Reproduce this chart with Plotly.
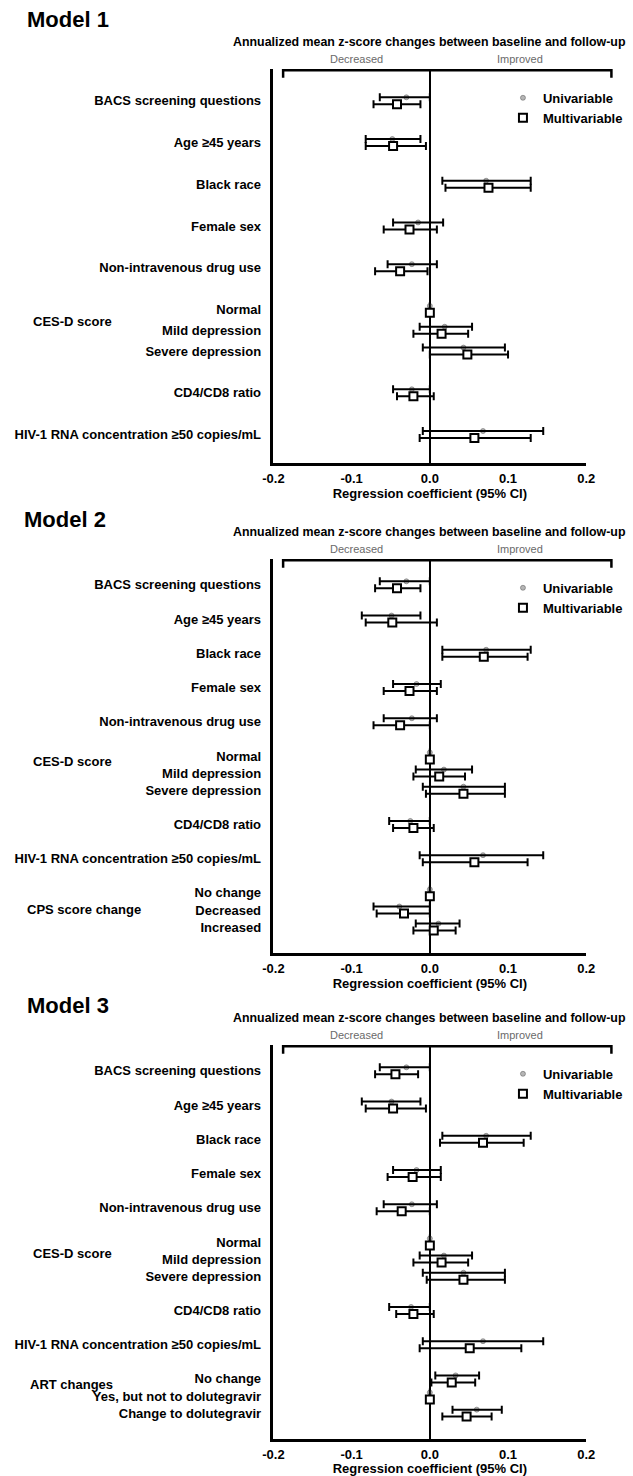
import plotly.graph_objects as go

W, H = 633, 1476

# ---------------- data ----------------
tick_vals = [-0.2, -0.1, 0.0, 0.1, 0.2]
tick_text = ["-0.2", "-0.1", "0.0", "0.1", "0.2"]

base_rows = ["BACS screening questions", "Age ≥45 years", "Black race", "Female sex",
             "Non-intravenous drug use", "Normal", "Mild depression", "Severe depression",
             "CD4/CD8 ratio", "HIV-1 RNA concentration ≥50 copies/mL"]
base_groups = [None, None, None, None, None, "CES-D score", "CES-D score", "CES-D score", None, None]

m1_rows = base_rows
m1_groups = base_groups
m1_uni_est = [-0.030, -0.048, 0.072, -0.015, -0.023, 0.0, 0.019, 0.043, -0.023, 0.068]
m1_uni_lo = [-0.064, -0.082, 0.016, -0.047, -0.054, None, -0.013, -0.009, -0.047, -0.009]
m1_uni_hi = [0.000, -0.012, 0.129, 0.017, 0.009, None, 0.054, 0.096, 0.000, 0.145]
m1_mul_est = [-0.042, -0.047, 0.075, -0.026, -0.038, 0.0, 0.015, 0.048, -0.021, 0.057]
m1_mul_lo = [-0.072, -0.082, 0.020, -0.059, -0.070, None, -0.021, 0.000, -0.042, -0.013]
m1_mul_hi = [-0.012, -0.005, 0.129, 0.009, -0.003, None, 0.049, 0.100, 0.005, 0.129]

m2_rows = base_rows + ["No change", "Decreased", "Increased"]
m2_groups = base_groups + ["CPS score change"] * 3
m2_uni_est = [-0.030, -0.049, 0.072, -0.017, -0.023, 0.0, 0.018, 0.043, -0.025, 0.068, 0.0, -0.039, 0.011]
m2_uni_lo = [-0.064, -0.087, 0.016, -0.047, -0.059, None, -0.018, -0.009, -0.052, -0.013, None, -0.072, -0.018]
m2_uni_hi = [0.000, -0.012, 0.129, 0.014, 0.009, None, 0.054, 0.096, 0.000, 0.145, None, 0.000, 0.038]
m2_mul_est = [-0.042, -0.048, 0.069, -0.026, -0.038, 0.0, 0.012, 0.043, -0.021, 0.057, 0.0, -0.033, 0.005]
m2_mul_lo = [-0.070, -0.082, 0.016, -0.059, -0.072, None, -0.021, -0.005, -0.047, -0.009, None, -0.068, -0.021]
m2_mul_hi = [-0.012, 0.009, 0.125, 0.009, 0.000, None, 0.045, 0.096, 0.005, 0.125, None, 0.000, 0.033]

m3_rows = base_rows + ["No change", "Yes, but not to dolutegravir", "Change to dolutegravir"]
m3_groups = base_groups + ["ART changes"] * 3
m3_uni_est = [-0.030, -0.049, 0.072, -0.017, -0.023, 0.0, 0.018, 0.043, -0.024, 0.068, 0.033, 0.0, 0.060]
m3_uni_lo = [-0.064, -0.087, 0.016, -0.047, -0.059, None, -0.013, -0.009, -0.052, -0.009, 0.007, None, 0.029]
m3_uni_hi = [0.000, -0.012, 0.129, 0.014, 0.009, None, 0.054, 0.096, 0.000, 0.145, 0.063, None, 0.092]
m3_mul_est = [-0.044, -0.047, 0.068, -0.022, -0.036, 0.0, 0.015, 0.043, -0.021, 0.051, 0.028, 0.0, 0.047]
m3_mul_lo = [-0.070, -0.082, 0.013, -0.054, -0.068, None, -0.021, -0.004, -0.043, -0.013, 0.002, None, 0.016]
m3_mul_hi = [-0.015, -0.005, 0.120, 0.014, 0.000, None, 0.049, 0.096, 0.005, 0.117, 0.058, None, 0.079]

panel_titles = ["Model 1", "Model 2", "Model 3"]
header_text = "Annualized mean z-score changes between baseline and follow-up"
dir_left = "Decreased"
dir_right = "Improved"
x_title = "Regression coefficient (95% CI)"
series_names = ["Univariable", "Multivariable"]

models = [
    (m1_rows, m1_groups, m1_uni_est, m1_uni_lo, m1_uni_hi, m1_mul_est, m1_mul_lo, m1_mul_hi),
    (m2_rows, m2_groups, m2_uni_est, m2_uni_lo, m2_uni_hi, m2_mul_est, m2_mul_lo, m2_mul_hi),
    (m3_rows, m3_groups, m3_uni_est, m3_uni_lo, m3_uni_hi, m3_mul_est, m3_mul_lo, m3_mul_hi),
]

# ---------------- layout geometry (pixels) ----------------
panel_top = [69, 560, 1047]
panel_bot = [464, 955, 1442]
first_row_px = [101, 586, 1073]
px_per_unit = [20.9, 17.15, 17.15]
title_px = [(16, 20), (12, 521), (16, 1008)]
group_shift = [{"CES-D score": -0.4},
               {"CES-D score": -0.7, "CPS score change": 0.0},
               {"CES-D score": -0.3, "ART changes": -0.7}]
group_x_px = {"CES-D score": 22, "CPS score change": 16, "ART changes": 19}
x_left_px, x_right_px = 271, 594

FONT = "Liberation Sans"
BOLD13 = dict(family=FONT, size=13, color="black", weight="bold")


def py(p):
    return 1 - p / H


def positions(groups):
    pos = [0.0]
    for i in range(1, len(groups)):
        same = groups[i] is not None and groups[i] == groups[i - 1]
        pos.append(pos[-1] + (1 if same else 2))
    return pos


def err(est, lo, hi):
    plus = [None if h is None else h - e for e, h in zip(est, hi)]
    minus = [None if l is None else e - l for e, l in zip(est, lo)]
    return plus, minus


fig = go.Figure()
annotations = []
shapes = []

for k, (rows, groups, ue, ul, uh, me, ml, mh) in enumerate(models):
    ax = "" if k == 0 else str(k + 1)
    xa, ya = "x" + ax, "y" + ax
    leg = "legend" + ax
    pos = positions(groups)
    ppu = px_per_unit[k]
    off = 3.5 / ppu
    y_uni = [p - off for p in pos]
    y_mul = [p + off for p in pos]

    up, um = err(ue, ul, uh)
    mp, mm = err(me, ml, mh)

    # univariable point (drawn under its CI line)
    fig.add_trace(go.Scatter(
        x=ue, y=y_uni, mode="markers", name=series_names[0],
        xaxis=xa, yaxis=ya, legend=leg,
        marker=dict(symbol="circle", size=5, color="#b5b5b5",
                    line=dict(color="#555555", width=0.5)),
    ))
    fig.add_trace(go.Scatter(
        x=ue, y=y_uni, mode="markers", showlegend=False, hoverinfo="skip",
        xaxis=xa, yaxis=ya,
        marker=dict(size=1, color="rgba(0,0,0,0)"),
        error_x=dict(type="data", symmetric=False, array=up, arrayminus=um,
                     color="black", thickness=2, width=4),
    ))
    fig.add_trace(go.Scatter(
        x=me, y=y_mul, mode="markers", name=series_names[1],
        xaxis=xa, yaxis=ya, legend=leg,
        marker=dict(symbol="square", size=8, color="white",
                    line=dict(color="black", width=2)),
        error_x=dict(type="data", symmetric=False, array=mp, arrayminus=mm,
                     color="black", thickness=2, width=4),
    ))

    top_u = -(first_row_px[k] - panel_top[k]) / ppu
    bot_u = (panel_bot[k] - first_row_px[k]) / ppu

    fig.update_layout(**{
        "xaxis" + ax: dict(
            domain=[x_left_px / W, x_right_px / W], range=[-0.2, 0.2], anchor=ya,
            tickvals=tick_vals, ticktext=tick_text, showgrid=False,
            zeroline=True, zerolinecolor="black", zerolinewidth=2,
            showline=True, linecolor="black", linewidth=2.5,
            ticks="outside", ticklen=2, tickcolor="rgba(0,0,0,0)",
            tickfont=BOLD13,
            title=dict(text=x_title, standoff=4, font=BOLD13),
        ),
        "yaxis" + ax: dict(
            domain=[py(panel_bot[k]), py(panel_top[k])], range=[bot_u, top_u], anchor=xa,
            tickvals=pos, ticktext=rows, showgrid=False, zeroline=False,
            showline=True, linecolor="black", linewidth=2.5,
            ticks="outside", ticklen=7, tickcolor="rgba(0,0,0,0)",
            tickfont=BOLD13,
        ),
        leg: dict(
            x=508 / W, y=py(panel_top[k] + 14), xanchor="left", yanchor="top",
            bgcolor="rgba(0,0,0,0)", borderwidth=0, tracegroupgap=0,
            font=BOLD13,
        ),
    })

    # panel title
    tx, ty = title_px[k]
    annotations.append(dict(text=panel_titles[k], x=tx / W, y=py(ty),
                            xref="paper", yref="paper", xanchor="left", yanchor="middle",
                            align="left", showarrow=False, borderpad=0,
                            font=dict(family=FONT, size=22, color="black", weight="bold")))
    # header
    annotations.append(dict(text=header_text, x=228 / W, y=py(panel_top[k] - 27),
                            xref="paper", yref="paper", xanchor="left", yanchor="middle",
                            align="left", showarrow=False, borderpad=0,
                            font=dict(family=FONT, size=12.4, color="black", weight="bold")))
    for txt, xp in ((dir_left, 357), (dir_right, 526)):
        annotations.append(dict(text=txt, x=xp / W, y=py(panel_top[k] - 10),
                                xref="paper", yref="paper", xanchor="center", yanchor="middle",
                                showarrow=False,
                                font=dict(family=FONT, size=11, color="#6a6a6a")))
    # group labels
    seen = []
    for g in groups:
        if g is not None and g not in seen:
            seen.append(g)
    for g in seen:
        idx = [i for i, gg in enumerate(groups) if gg == g]
        mid = (pos[idx[0]] + pos[idx[-1]]) / 2 + group_shift[k][g]
        annotations.append(dict(text=g, x=group_x_px[g] / W, y=mid, xref="paper", yref=ya,
                                xanchor="left", yanchor="middle", align="left",
                                showarrow=False, borderpad=0, font=BOLD13))
    # bracket
    yt, yb = py(panel_top[k] + 1.5), py(panel_top[k] + 9)
    xl, xr = 281 / W, 620 / W
    shapes.append(dict(type="path", xref="paper", yref="paper",
                       path=f"M {xl},{yb} L {xl},{yt} L {xr},{yt} L {xr},{yb}",
                       line=dict(color="black", width=2.5)))

fig.update_layout(
    width=W, height=H, autosize=False,
    margin=dict(l=0, r=0, t=0, b=0),
    paper_bgcolor="white", plot_bgcolor="white",
    font=dict(family=FONT, color="black"),
    annotations=annotations, shapes=shapes,
)

fig.write_html(
    "out.html",
    config={"displayModeBar": False},
    post_script="document.body.style.margin='0';"
                "document.documentElement.style.overflow='hidden';",
)
